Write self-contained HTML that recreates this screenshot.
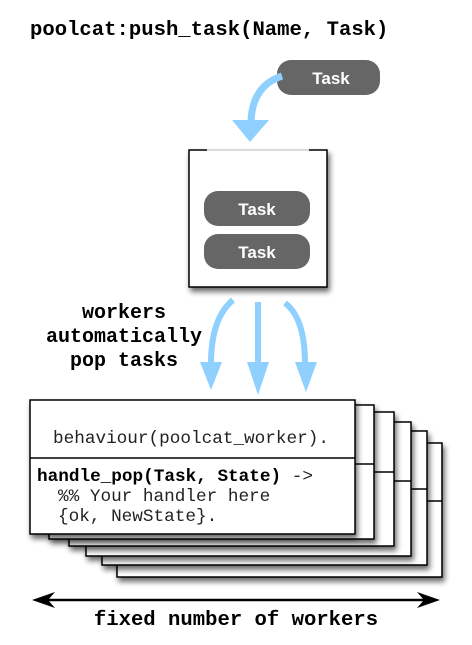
<!DOCTYPE html>
<html><head><style>
body{margin:0;background:#fff;}
svg{display:block;}
.mono{font-family:"Liberation Mono",monospace;}
</style></head><body>
<svg width="472" height="645" viewBox="0 0 472 645" xmlns="http://www.w3.org/2000/svg">
<defs>
<filter id="sh" x="-20%" y="-20%" width="150%" height="150%"><feGaussianBlur in="SourceAlpha" stdDeviation="3"/><feOffset dx="2" dy="4"/><feComponentTransfer><feFuncA type="linear" slope="0.6"/></feComponentTransfer><feMerge><feMergeNode/><feMergeNode in="SourceGraphic"/></feMerge></filter>
</defs>
<text x="30" y="35" class="mono" font-weight="bold" font-size="20.6">poolcat:push_task(Name, Task)</text>

<rect x="277" y="60" width="103" height="35" rx="14" fill="#666"/>
<text x="331" y="84" text-anchor="middle" fill="#fff" font-family="Liberation Sans,sans-serif" font-weight="bold" font-size="17">Task</text>

<path d="M282 76 Q252 86 251 122" stroke="#8fd0ff" stroke-width="7" fill="none"/>
<path d="M232 120 L269 120 L250 142 Z" fill="#8fd0ff"/>

<g filter="url(#sh)"><rect x="189" y="150" width="138" height="137" fill="#fff" stroke="#000" stroke-width="1.5"/></g>
<line x1="207" y1="150" x2="309" y2="150" stroke="#ddd" stroke-width="2"/>
<rect x="204" y="191" width="106" height="35" rx="14" fill="#666"/>
<text x="257" y="215" text-anchor="middle" fill="#fff" font-family="Liberation Sans,sans-serif" font-weight="bold" font-size="17">Task</text>
<rect x="204" y="234" width="106" height="35" rx="14" fill="#666"/>
<text x="257" y="258" text-anchor="middle" fill="#fff" font-family="Liberation Sans,sans-serif" font-weight="bold" font-size="17">Task</text>

<g class="mono" font-weight="bold" font-size="20" text-anchor="middle">
<text x="124" y="318">workers</text>
<text x="124" y="342">automatically</text>
<text x="124" y="366">pop tasks</text>
</g>

<g stroke="#8fd0ff" stroke-width="6" fill="none">
<path d="M233 300 Q211 318 211 364"/>
<path d="M258 302 L258 364"/>
<path d="M285 303 Q305 318 305 364"/>
</g>
<g fill="#8fd0ff">
<path d="M200 362 L222 362 L211 390 Z"/>
<path d="M247 362 L269 362 L258 395 Z"/>
<path d="M295 362 L317 362 L306 392 Z"/>
</g>

<g fill="#fff" stroke="#000" stroke-width="1.5">
<rect x="117" y="443" width="325" height="134" filter="url(#sh)"/><line x1="117" y1="501" x2="442" y2="501"/>
<rect x="102" y="431" width="325" height="134" filter="url(#sh)"/><line x1="102" y1="489" x2="427" y2="489"/>
<rect x="86" y="422" width="325" height="134" filter="url(#sh)"/><line x1="86" y1="481" x2="411" y2="481"/>
<rect x="69" y="412" width="325" height="134" filter="url(#sh)"/><line x1="69" y1="472" x2="394" y2="472"/>
<rect x="49" y="405" width="325" height="134" filter="url(#sh)"/><line x1="49" y1="464" x2="374" y2="464"/>
<rect x="30" y="400" width="325" height="134" filter="url(#sh)"/><line x1="30" y1="458" x2="355" y2="458"/>
</g>
<g class="mono" font-size="17.7" fill="#222">
<text x="53" y="443">behaviour(poolcat_worker).</text>
<text x="37" y="481"><tspan font-weight="bold" fill="#000">handle_pop(Task, State)</tspan> -&gt;</text>
<text x="58" y="501">%% Your handler here</text>
<text x="58" y="521">{ok, NewState}.</text>
</g>

<line x1="40" y1="600" x2="432" y2="600" stroke="#000" stroke-width="2.5"/>
<path d="M32 600 L55 592 L48 600 L55 608 Z" fill="#000"/>
<path d="M440 600 L417 592 L424 600 L417 608 Z" fill="#000"/>
<text x="236" y="625" text-anchor="middle" class="mono" font-weight="bold" font-size="20.6">fixed number of workers</text>
</svg>
</body></html>
